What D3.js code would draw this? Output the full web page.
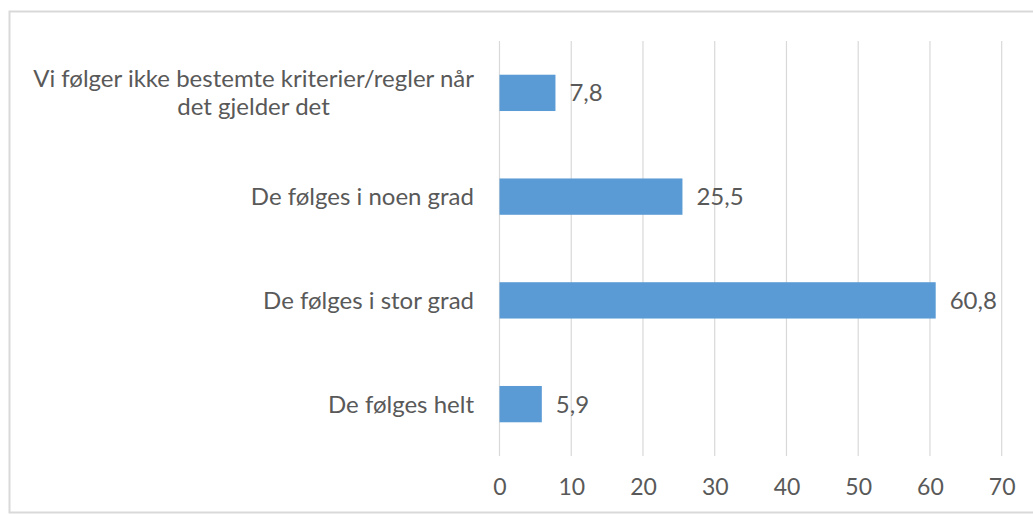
<!DOCTYPE html>
<html>
<head>
<meta charset="utf-8">
<script src="https://cdn.jsdelivr.net/npm/d3@7"></script>
<style>
  html, body { margin: 0; padding: 0; background: #fff; }
  svg { display: block; }
  text { font-family: Lato, "Open Sans", sans-serif; fill: #595959; }
</style>
</head>
<body>
<svg id="chart" width="1033" height="514"></svg>
<script>
const categories = [
  ["Vi følger ikke bestemte kriterier/regler når", "det gjelder det"],
  ["De følges i noen grad"],
  ["De følges i stor grad"],
  ["De følges helt"]
];
const values = [7.8, 25.5, 60.8, 5.9];
const valueLabels = ["7,8", "25,5", "60,8", "5,9"];
const tickValues = [0, 10, 20, 30, 40, 50, 60, 70];

(function () {
const svg = d3.select("#chart");
const W = 1033, H = 514;

// outer border
svg.append("rect")
  .attr("x", 9.5).attr("y", 11.5)
  .attr("width", W + 10).attr("height", 501)
  .attr("fill", "#fff").attr("stroke", "#d9d9d9").attr("stroke-width", 2);

const pLeft = 499.5, pRight = 1001.7, pTop = 41, pBottom = 456;

const x = d3.scaleLinear().domain([0, 70]).range([pLeft, pRight]);
const y = d3.scaleBand().domain(d3.range(categories.length)).range([pTop, pBottom]).paddingInner(0.65).paddingOuter(0.325);

// gridlines
svg.append("g")
  .selectAll("line").data(tickValues).join("line")
  .attr("x1", d => x(d)).attr("x2", d => x(d))
  .attr("y1", pTop).attr("y2", pBottom)
  .attr("stroke", "#d9d9d9").attr("stroke-width", 1.2);

// x axis labels
const xAxis = d3.axisBottom(x).tickValues(tickValues).tickSize(0).tickPadding(0).tickFormat(d3.format("d"));
const gx = svg.append("g").attr("transform", `translate(0,${pBottom})`).call(xAxis);
gx.select(".domain").remove();
gx.selectAll("text")
  .attr("y", 31).attr("dy", "0.35em")
  .style("font-family", "Lato, sans-serif").style("font-size", "23px").attr("fill", "#595959");

// bars
svg.append("g").selectAll("rect").data(values).join("rect")
  .attr("x", x(0))
  .attr("y", (d, i) => y(i))
  .attr("width", d => x(d) - x(0))
  .attr("height", y.bandwidth())
  .attr("fill", "#5b9bd5");

// value labels
svg.append("g").selectAll("text").data(values).join("text")
  .attr("x", d => x(d) + 14)
  .attr("y", (d, i) => y(i) + y.bandwidth() / 2)
  .attr("dy", "0.35em")
  .style("font-size", "24px")
  .text((d, i) => valueLabels[i]);

// category labels
const labelRight = 474;
categories.forEach((lines, i) => {
  const cy = y(i) + y.bandwidth() / 2;
  const g = svg.append("g");
  const lh = 28;
  const texts = lines.map((ln, j) => g.append("text")
    .attr("y", cy + (j - (lines.length - 1) / 2) * lh)
    .attr("dy", "0.35em")
    .style("font-size", "24px")
    .text(ln));
  const maxW = d3.max(texts, t => t.node().getComputedTextLength());
  texts.forEach(t => t.attr("x", labelRight - maxW / 2).attr("text-anchor", "middle"));
});
})();
</script>
</body>
</html>
